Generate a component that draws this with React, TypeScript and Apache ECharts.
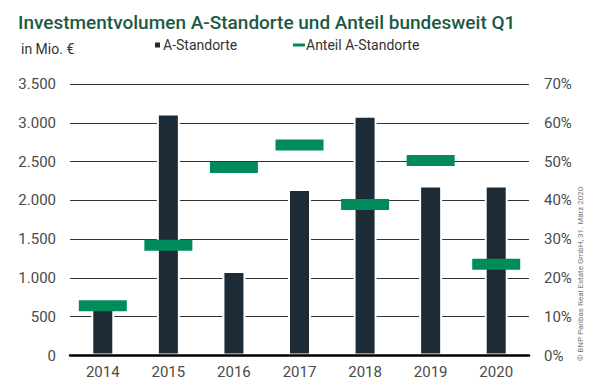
import React, { useEffect, useRef } from "react";
import * as echarts from "echarts";

const years = ["2014", "2015", "2016", "2017", "2018", "2019", "2020"];
const volumeA = [600, 3120, 1090, 2145, 3090, 2190, 2190];
const shareA = [12.8, 28.4, 48.5, 54.3, 38.9, 50.3, 23.5];
const leftTicks = [0, 500, 1000, 1500, 2000, 2500, 3000, 3500];

const FONT = "Roboto, 'Open Sans', sans-serif";
const DARK = "#1c2b36";
const GREEN = "#008c5a";
const LABEL = "#4a4a4a";

export default function App() {
  const ref = useRef<HTMLDivElement>(null);
  useEffect(() => {
    if (!ref.current) return;
    const chart = echarts.init(ref.current, null, { renderer: "svg" });
    chart.setOption({
      animation: false,
      backgroundColor: "#fff",
      textStyle: { fontFamily: FONT },
      title: [
        {
          text: "Investmentvolumen A-Standorte und Anteil bundesweit Q1",
          left: 13,
          top: 8,
          textStyle: { fontFamily: FONT, fontSize: 19, fontWeight: 500, color: "#1c5a44" },
        },
        {
          text: "in Mio. €",
          left: 16,
          top: 37,
          textStyle: { fontFamily: FONT, fontSize: 14, fontWeight: 400, color: "#333" },
        },
      ],
      legend: [
        {
          data: [{ name: "A-Standorte", icon: "rect" }],
          left: 153,
          top: 38,
          itemWidth: 7,
          itemHeight: 7,
          itemGap: 4,
          textStyle: { fontFamily: FONT, fontSize: 14, color: "#333", padding: [0, 0, 0, -3] },
          padding: 0,
        },
        {
          data: [{ name: "Anteil A-Standorte", icon: "rect" }],
          left: 293,
          top: 38,
          itemWidth: 12,
          itemHeight: 3,
          textStyle: { fontFamily: FONT, fontSize: 14, color: "#333", padding: [0, 0, 0, -4] },
          padding: 0,
        },
      ],
      grid: { left: 70, right: 71, top: 84, bottom: 30.5 },
      xAxis: {
        type: "category",
        data: years,
        z: 5,
        axisLine: { lineStyle: { color: "#000", width: 2.5 } },
        axisTick: { show: false },
        axisLabel: { fontFamily: FONT, fontSize: 15, color: LABEL, margin: 9 },
      },
      yAxis: [
        {
          type: "value",
          min: leftTicks[0],
          max: leftTicks[leftTicks.length - 1],
          interval: 500,
          axisLine: { show: false },
          axisTick: { show: false },
          splitLine: { lineStyle: { color: "#333", width: 1 } },
          axisLabel: {
            fontFamily: FONT,
            fontSize: 15,
            color: LABEL,
            margin: 14,
            formatter: (v: number) => v.toLocaleString("de-DE"),
          },
        },
        {
          type: "value",
          min: 0,
          max: 70,
          interval: 10,
          axisLine: { show: false },
          axisTick: { show: false },
          splitLine: { show: false },
          axisLabel: { fontFamily: FONT, fontSize: 15, color: LABEL, margin: 15, formatter: "{value}%" },
        },
      ],
      series: [
        {
          name: "A-Standorte",
          type: "bar",
          data: volumeA,
          barWidth: 23,
          itemStyle: { color: DARK, borderColor: "#fff", borderWidth: 2 },
          z: 2,
        },
        {
          name: "Anteil A-Standorte",
          type: "scatter",
          yAxisIndex: 1,
          data: shareA,
          symbol: "rect",
          symbolSize: [48, 11],
          itemStyle: { color: GREEN, opacity: 1 },
          z: 6,
        },
      ],
      graphic: [
        {
          type: "text",
          x: 576,
          y: 361,
          rotation: Math.PI / 2,
          style: {
            text: "© BNP Paribas Real Estate GmbH, 31. März 2020",
            fontFamily: FONT,
            fontSize: 8,
            fill: "#777",
            textAlign: "left",
            textVerticalAlign: "top",
          },
        },
      ],
    });
    return () => chart.dispose();
  }, []);
  return <div ref={ref} style={{ width: 600, height: 386, position: "absolute", left: 0, top: 0 }} />;
}
